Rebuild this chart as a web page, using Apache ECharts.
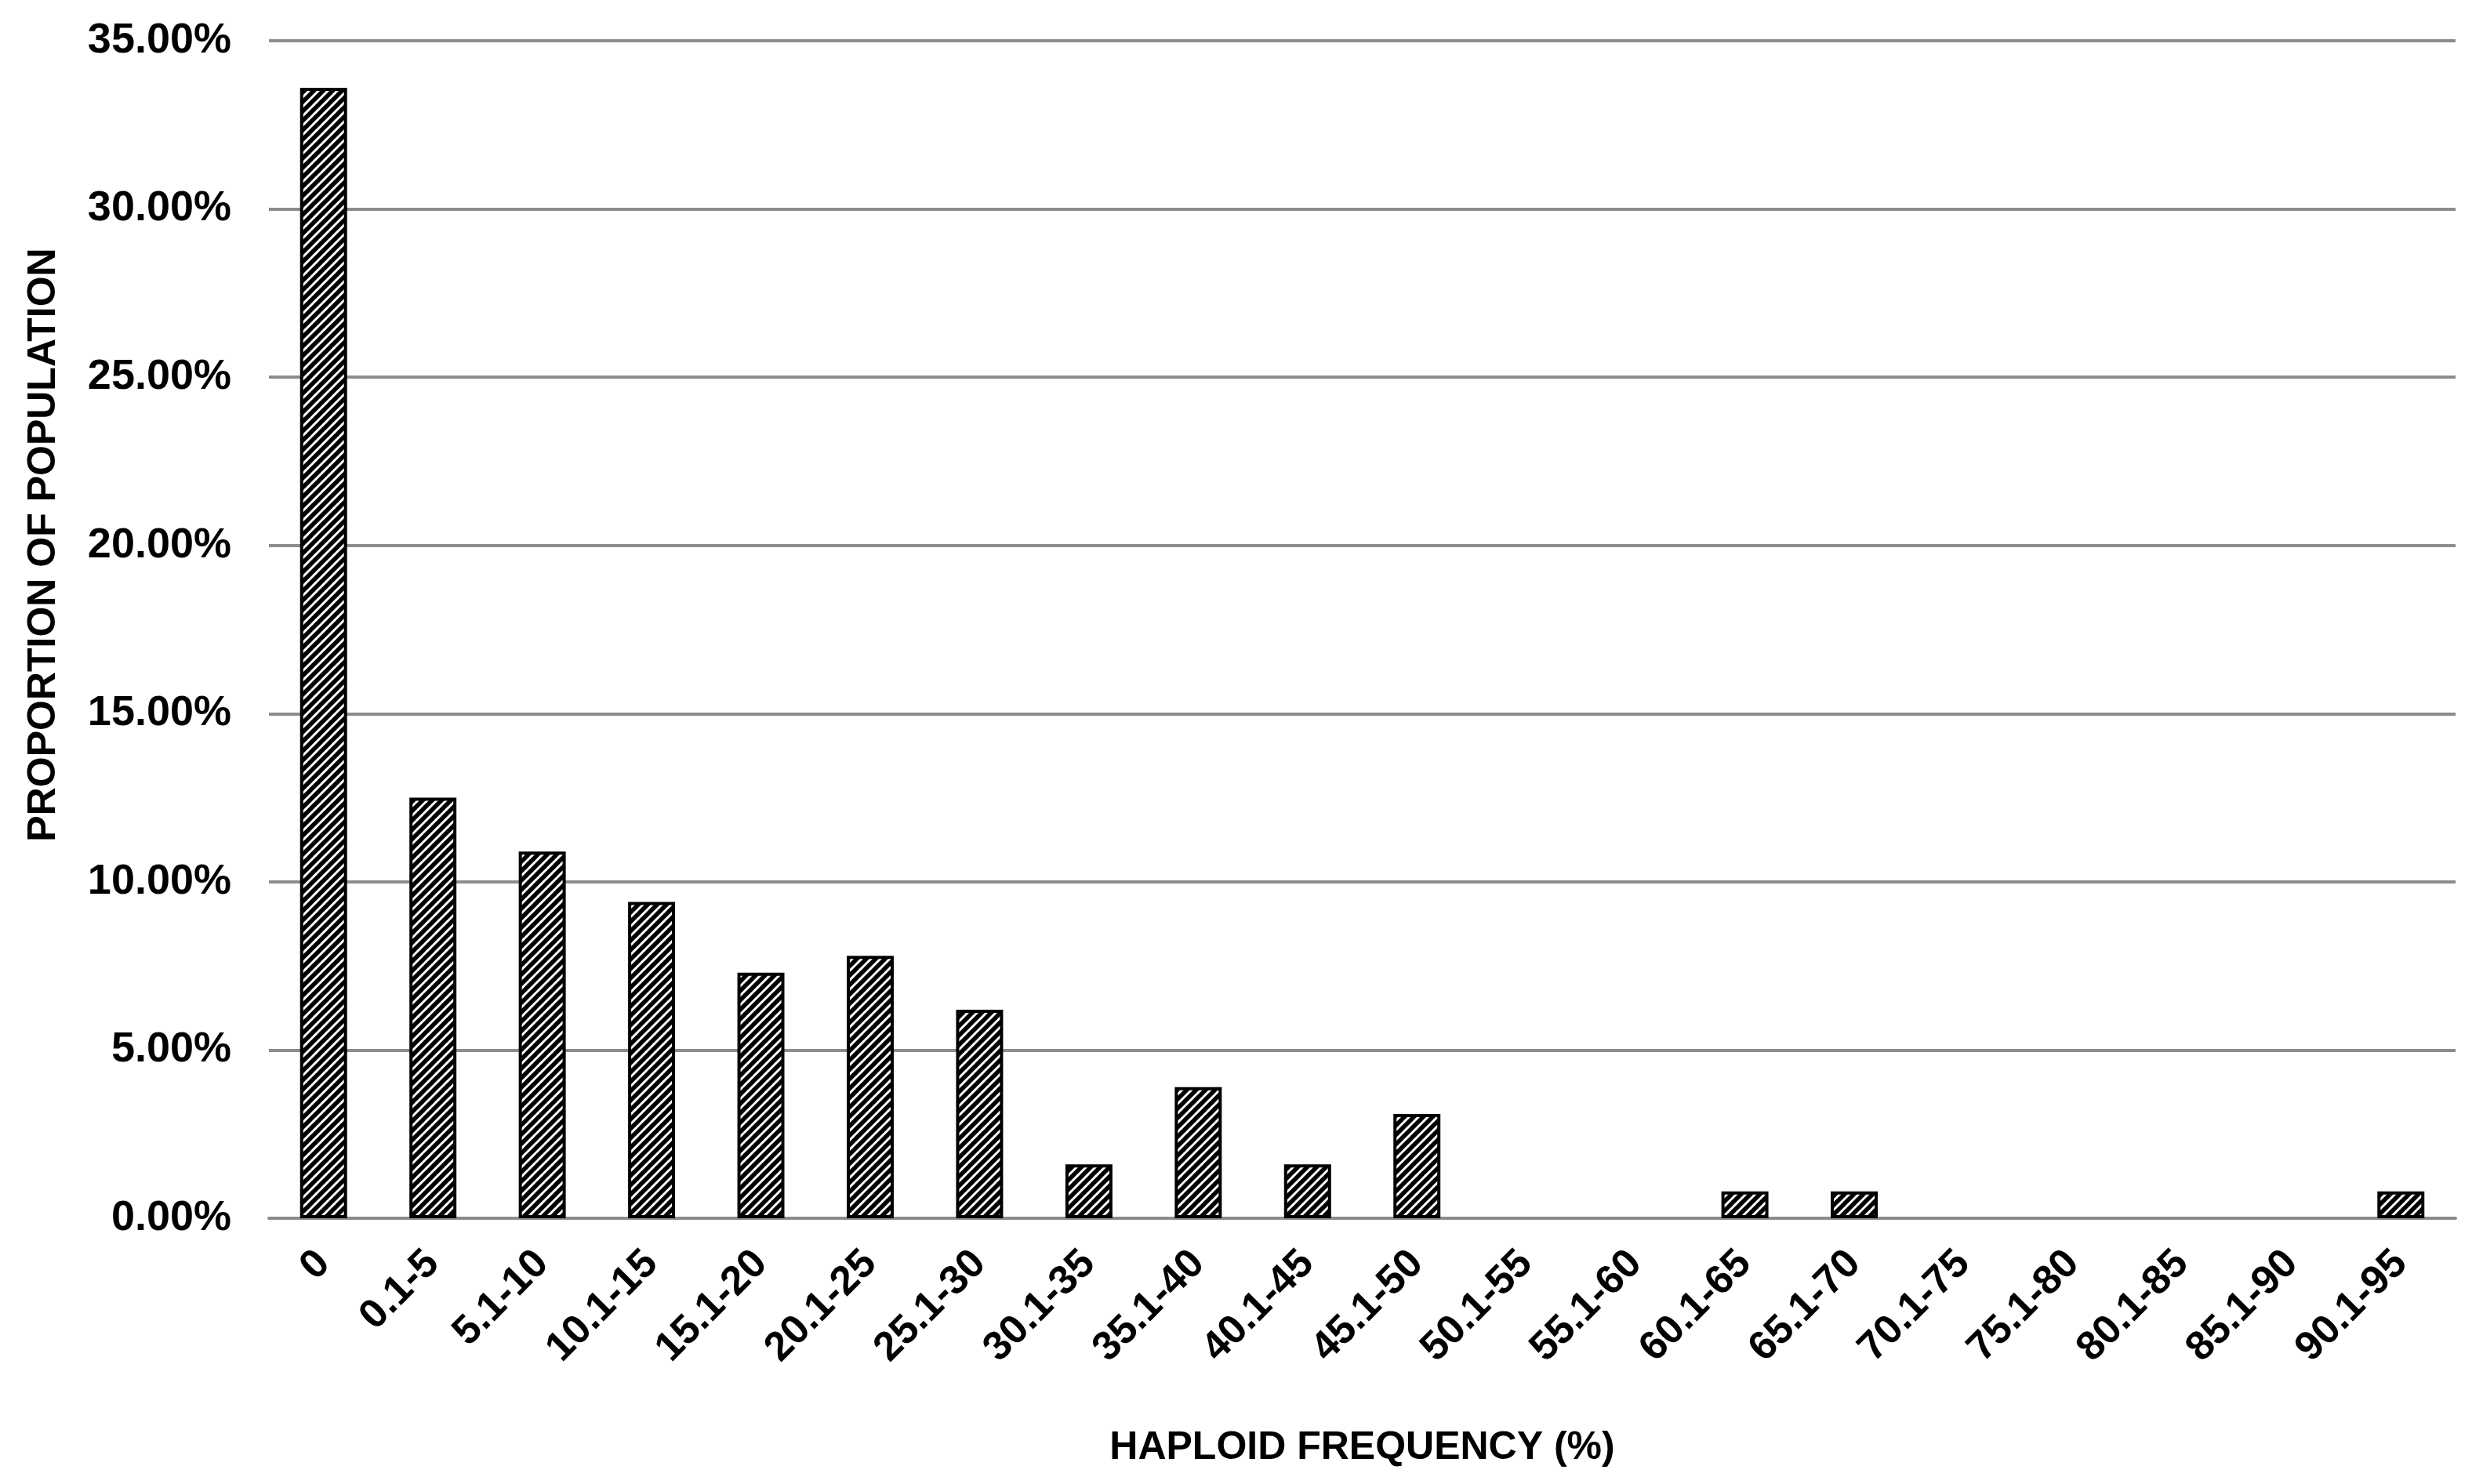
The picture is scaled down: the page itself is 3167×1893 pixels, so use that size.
<!DOCTYPE html>
<html>
<head>
<meta charset="utf-8">
<title>Haploid frequency</title>
<script src="https://cdn.jsdelivr.net/npm/echarts@6/dist/echarts.min.js"></script>
<style>
  html, body { margin: 0; padding: 0; background: #fff; }
  #chart { width: 3167px; height: 1893px; }
</style>
</head>
<body>
<div id="chart"></div>
<script>
var categories = ['0', '0.1-5', '5.1-10', '10.1-15', '15.1-20', '20.1-25', '25.1-30',
    '30.1-35', '35.1-40', '40.1-45', '45.1-50', '50.1-55', '55.1-60', '60.1-65',
    '65.1-70', '70.1-75', '75.1-80', '80.1-85', '85.1-90', '90.1-95'];
// proportion of population, %
var proportion = [33.6, 12.5, 10.9, 9.4, 7.3, 7.8, 6.2, 1.6, 3.9, 1.6, 3.1,
    0, 0, 0.8, 0.8, 0, 0, 0, 0, 0.8];
var yTicks = { min: 0, max: 35, interval: 5 };

// diagonal hatch fill, one stripe per tile
function hatch() {
    var s = 12;
    var c = document.createElement('canvas');
    c.width = s;
    c.height = s;
    var ctx = c.getContext('2d');
    ctx.fillStyle = '#fff';
    ctx.fillRect(0, 0, s, s);
    ctx.strokeStyle = '#000';
    ctx.lineWidth = 5.5;
    ctx.beginPath();
    ctx.moveTo(-2, s + 2); ctx.lineTo(s + 2, -2);
    ctx.moveTo(-2, 2); ctx.lineTo(2, -2);
    ctx.moveTo(s - 2, s + 2); ctx.lineTo(s + 2, s - 2);
    ctx.stroke();
    return c;
}

var font = "'Liberation Sans', Arial, sans-serif";
var myChart = echarts.init(document.getElementById('chart'));
var option = {
    backgroundColor: '#fff',
    animation: false,
    grid: { left: 343, right: 35, top: 52, bottom: 339 },
    xAxis: {
        type: 'category',
        data: categories,
        name: 'HAPLOID FREQUENCY (%)',
        nameLocation: 'middle',
        nameGap: 268,
        nameTextStyle: { fontFamily: font, fontWeight: 'bold', fontSize: 50, color: '#000' },
        axisLine: { lineStyle: { color: '#8c8c8c', width: 4 } },
        axisTick: { show: false },
        axisLabel: {
            interval: 0,
            rotate: 45,
            margin: 50,
            fontFamily: font,
            fontWeight: 'bold',
            fontSize: 52,
            color: '#000'
        }
    },
    yAxis: {
        type: 'value',
        min: yTicks.min,
        max: yTicks.max,
        interval: yTicks.interval,
        name: 'PROPORTION OF POPULATION',
        nameLocation: 'middle',
        nameGap: 262,
        nameTextStyle: {
            fontFamily: font, fontWeight: 'bold', fontSize: 50, color: '#000',
            padding: [0, 0, 0, 216]
        },
        axisLine: { show: false },
        axisTick: { show: false },
        splitLine: { lineStyle: { color: '#8c8c8c', width: 4 } },
        axisLabel: {
            margin: 48,
            fontFamily: font,
            fontWeight: 'bold',
            fontSize: 54,
            color: '#000',
            formatter: function (v) { return v.toFixed(2) + '%'; }
        }
    },
    series: [{
        type: 'bar',
        barWidth: '43%',
        data: proportion.map(function (v) {
            return v === 0 ? { value: v, itemStyle: { borderWidth: 0 } } : v;
        }),
        itemStyle: {
            color: { image: hatch(), repeat: 'repeat' },
            borderColor: '#000',
            borderWidth: 4
        }
    }]
};
myChart.setOption(option);
window.addEventListener('resize', function () {
    myChart.resize();
});
</script>
</body>
</html>
